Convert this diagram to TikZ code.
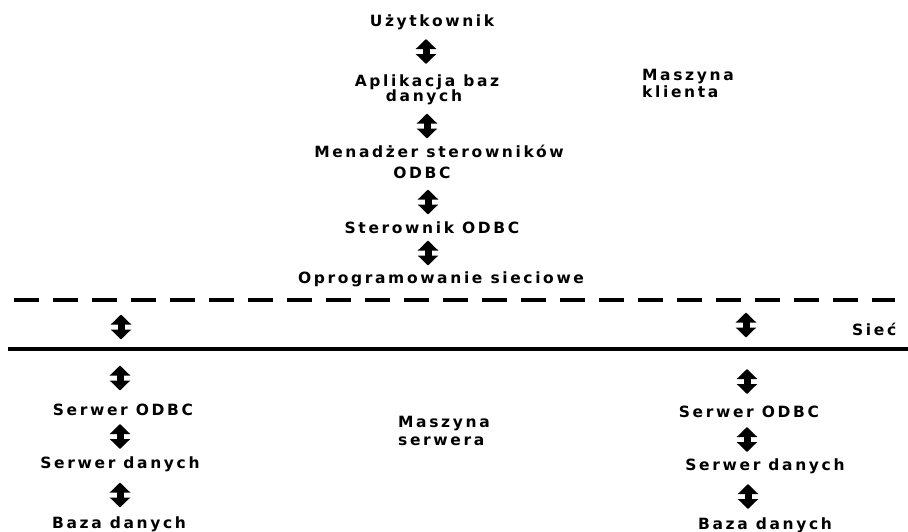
\documentclass[tikz,border=0pt]{standalone}
\usepackage{fontspec}
\usetikzlibrary{arrows.meta}
\newfontfamily\lblfont{DejaVu Sans}[LetterSpace=17]
\begin{document}
\begin{tikzpicture}[x=1pt,y=-1pt,
  lbl/.style={font=\lblfont\bfseries\fontsize{15.5}{18}\selectfont, inner sep=0pt, anchor=base},
  lblL/.style={lbl, anchor=base west},
  updown/.style={line width=7pt,
    {Triangle[width=20pt,length=10pt]}-{Triangle[width=20pt,length=10pt]}},
  netdash/.style={line width=4pt, dash pattern=on 25pt off 14pt},
  netline/.style={line width=4pt}]
\useasboundingbox (0,0) rectangle (908,531);

% client side stack
\node[lbl] (user) at (432,26) {Użytkownik};
\node[lbl] (app1) at (427,86) {Aplikacja baz};
\node[lbl] (app2) at (424,101) {danych};
\node[lbl] (mgr1) at (439,157) {Menadżer sterowników};
\node[lbl] (mgr2) at (422,178) {ODBC};
\node[lbl] (drv) at (432,233) {Sterownik ODBC};
\node[lbl] (net) at (441,283) {Oprogramowanie sieciowe};
\node[lblL] (client1) at (642,80) {Maszyna};
\node[lblL] (client2) at (642,97) {klienta};

\coordinate (a1t) at (426,39);    \coordinate (a1b) at (426,64);
\coordinate (a2t) at (427,113.5); \coordinate (a2b) at (427,138.5);
\coordinate (a3t) at (428,189.5); \coordinate (a3b) at (428,214.5);
\coordinate (a4t) at (428,240.5); \coordinate (a4b) at (428,265.5);
\draw[updown] (a1t) -- (a1b);
\draw[updown] (a2t) -- (a2b);
\draw[updown] (a3t) -- (a3b);
\draw[updown] (a4t) -- (a4b);

% network band
\coordinate (dashL) at (14,300);  \coordinate (dashR) at (895,300);
\coordinate (lineL) at (8,349);   \coordinate (lineR) at (908,349);
\draw[netdash] (dashL) -- (dashR);
\draw[netline] (lineL) -- (lineR);
\node[lblL] (siec) at (852,335) {Sieć};
\coordinate (nlt) at (121,314.5); \coordinate (nlb) at (121,339.5);
\coordinate (nrt) at (746,312.5); \coordinate (nrb) at (746,337.5);
\draw[updown] (nlt) -- (nlb);
\draw[updown] (nrt) -- (nrb);

% server machine, left stack
\node[lbl] (lodbc) at (123,415) {Serwer ODBC};
\node[lbl] (ldata) at (120,468) {Serwer danych};
\node[lbl] (ldb) at (119,528) {Baza danych};
\coordinate (l1t) at (120,365.5); \coordinate (l1b) at (120,390.5);
\coordinate (l2t) at (120,424);   \coordinate (l2b) at (120,449);
\coordinate (l3t) at (120,482.5); \coordinate (l3b) at (120,507.5);
\draw[updown] (l1t) -- (l1b);
\draw[updown] (l2t) -- (l2b);
\draw[updown] (l3t) -- (l3b);

% server machine, right stack
\node[lbl] (rodbc) at (749,417) {Serwer ODBC};
\node[lbl] (rdata) at (765,470) {Serwer danych};
\node[lbl] (rdb) at (765,529) {Baza danych};
\coordinate (r1t) at (747,369);   \coordinate (r1b) at (747,394);
\coordinate (r2t) at (747,427);   \coordinate (r2b) at (747,452);
\coordinate (r3t) at (748,484);   \coordinate (r3b) at (748,509);
\draw[updown] (r1t) -- (r1b);
\draw[updown] (r2t) -- (r2b);
\draw[updown] (r3t) -- (r3b);

\node[lblL] (srv1) at (398,427) {Maszyna};
\node[lblL] (srv2) at (398,445) {serwera};
\end{tikzpicture}
\end{document}
